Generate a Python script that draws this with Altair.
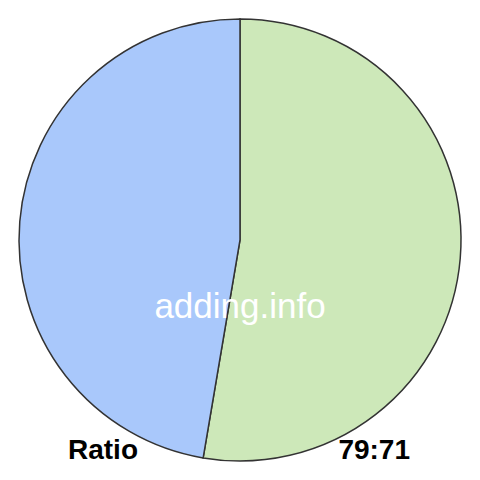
import altair as alt
import pandas as pd

labels = ["79", "71"]
values = [79, 71]
colors = ["#cde8b9", "#a9c8fb"]
order = [1, 2]
watermark = "adding.info"
left_label = "Ratio"
right_label = "79:71"

df = pd.DataFrame({"label": labels, "value": values, "order": order})

pie = alt.Chart(df).mark_arc(radius=221, stroke="#333333", strokeWidth=1.5).encode(
    theta=alt.Theta("value:Q", stack=True),
    order=alt.Order("order:Q"),
    color=alt.Color("label:N", scale=alt.Scale(domain=labels, range=colors), legend=None),
)

txt_df = pd.DataFrame({"t": [watermark]})
wm = alt.Chart(txt_df).mark_text(
    font="Liberation Sans", fontSize=35, color="white", align="center", baseline="alphabetic"
).encode(text="t:N", x=alt.value(232), y=alt.value(310))

left = alt.Chart(pd.DataFrame({"t": [left_label]})).mark_text(
    font="Liberation Sans", fontSize=28, fontWeight="bold", color="black", align="left", baseline="alphabetic"
).encode(text="t:N", x=alt.value(60), y=alt.value(451))

right = alt.Chart(pd.DataFrame({"t": [right_label]})).mark_text(
    font="Liberation Sans", fontSize=28, fontWeight="bold", color="black", align="right", baseline="alphabetic"
).encode(text="t:N", x=alt.value(402), y=alt.value(451))

chart = alt.layer(pie, wm, left, right).properties(
    width=464, height=464, padding=0, autosize=alt.AutoSizeParams(type="none")
).configure_view(stroke=None)

chart.save("out.html", embed_options={"renderer": "svg", "actions": False})
